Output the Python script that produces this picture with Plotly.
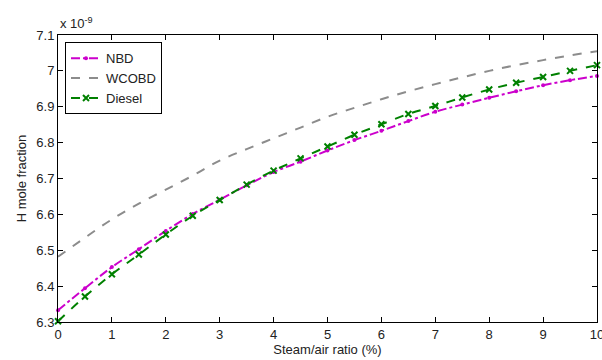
import plotly.graph_objects as go

steam_air = [0, 0.5, 1, 1.5, 2, 2.5, 3, 3.5, 4, 4.5, 5, 5.5, 6, 6.5, 7, 7.5, 8, 8.5, 9, 9.5, 10]
nbd = [6.333, 6.394, 6.453, 6.503, 6.554, 6.601, 6.641, 6.681, 6.718, 6.747, 6.778,
       6.807, 6.833, 6.860, 6.886, 6.906, 6.925, 6.943, 6.960, 6.974, 6.986]
wcobd = [6.482, 6.535, 6.586, 6.630, 6.669, 6.708, 6.750, 6.782, 6.812, 6.842, 6.872,
         6.897, 6.921, 6.943, 6.963, 6.982, 7.000, 7.016, 7.030, 7.043, 7.055]
diesel = [6.302, 6.371, 6.433, 6.488, 6.544, 6.596, 6.640, 6.683, 6.722, 6.756, 6.789,
          6.822, 6.851, 6.880, 6.902, 6.926, 6.948, 6.967, 6.983, 7.000, 7.016]
y_ticks = [6.3, 6.4, 6.5, 6.6, 6.7, 6.8, 6.9, 7.0, 7.1]
y_tick_labels = ["6.3", "6.4", "6.5", "6.6", "6.7", "6.8", "6.9", "7", "7.1"]
x_ticks = [0, 1, 2, 3, 4, 5, 6, 7, 8, 9, 10]

FONT = "Liberation Sans, Arial, sans-serif"
TXT = "#222222"

fig = go.Figure()
fig.add_trace(go.Scatter(
    x=steam_air, y=nbd, name="NBD", mode="lines+markers", cliponaxis=False,
    line=dict(color="#cc00cc", width=2, dash="dashdot", shape="spline"),
    marker=dict(symbol="circle", size=4, color="#cc00cc"),
))
fig.add_trace(go.Scatter(
    x=steam_air, y=wcobd, name="WCOBD", mode="lines", cliponaxis=False,
    line=dict(color="#8c8c8c", width=2, dash="dash", shape="spline"),
))
fig.add_trace(go.Scatter(
    x=steam_air, y=diesel, name="Diesel", mode="lines+markers", cliponaxis=False,
    line=dict(color="#008000", width=2, dash="dash", shape="spline"),
    marker=dict(symbol="x-thin", size=6, color="#008000",
                line=dict(color="#008000", width=2)),
))

axis_common = dict(
    showline=True, linecolor="black", linewidth=1, mirror="allticks",
    ticks="inside", ticklen=5, tickcolor="black", showgrid=False, zeroline=False,
    tickfont=dict(family=FONT, size=13, color=TXT),
    ticklabeloverflow="allow", automargin=False,
)

fig.update_layout(
    width=602, height=360,
    margin=dict(l=58, r=5, t=35, b=38),
    paper_bgcolor="white", plot_bgcolor="white",
    font=dict(family=FONT, size=13, color=TXT),
    xaxis=dict(range=[-0.0001, 10], tickvals=x_ticks,
               title=dict(text="Steam/air ratio (%)", standoff=3,
                          font=dict(family=FONT, size=13, color=TXT)),
               **axis_common),
    yaxis=dict(range=[6.3, 7.1], tickvals=y_ticks, ticktext=y_tick_labels,
               title=dict(text="H mole fraction", standoff=6,
                          font=dict(family=FONT, size=13, color=TXT)),
               **axis_common),
    legend=dict(x=0.013, y=0.975, xanchor="left", yanchor="top",
                bgcolor="white", bordercolor="black", borderwidth=1,
                font=dict(family=FONT, size=13, color=TXT),
                tracegroupgap=0, itemwidth=30),
    showlegend=True,
)
fig.add_annotation(
    x=0, y=1, xref="paper", yref="paper", xanchor="left", yanchor="bottom",
    text="x 10<sup>-9</sup>", showarrow=False, yshift=2,
    font=dict(family=FONT, size=13, color=TXT),
)

fig.write_html("out.html")
